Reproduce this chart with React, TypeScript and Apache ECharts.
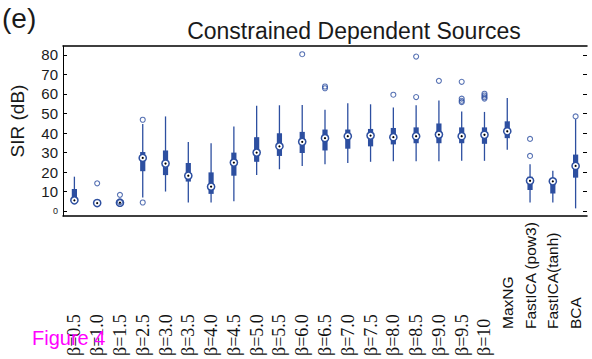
import React, { useEffect, useRef } from "react";
import * as echarts from "echarts";

// Methods compared on the horizontal axis
const categories = [
  "β=0.5", "β=1.0", "β=1.5", "β=2.5", "β=3.0", "β=3.5", "β=4.0", "β=4.5",
  "β=5.0", "β=5.5", "β=6.0", "β=6.5", "β=7.0", "β=7.5", "β=8.0", "β=8.5",
  "β=9.0", "β=9.5", "β=10", "MaxNG", "FastICA (pow3)", "FastICA(tanh)", "BCA",
];

// Box statistics of SIR (dB) per method
const whiskerLow = [4.5, 3.5, 3.8, 7.1, 10.1, 4.5, 4.5, 5.1, 18.5, 21.5, 23.1, 24.1, 24.7, 25.3, 25.6, 25.6, 25.6, 25.8, 25.8, 31.5, 4.5, 4.5, 1.5];
const quartile1 = [5.2, 4.0, 4.1, 20.5, 18.5, 15.2, 8.9, 18.2, 25.3, 28.3, 29.8, 31.1, 32.0, 33.2, 34.2, 34.8, 34.8, 34.8, 34.5, 37.4, 10.9, 9.1, 17.2];
const medians = [5.6, 4.2, 4.4, 27.3, 24.4, 18.2, 12.6, 24.9, 30.0, 33.2, 35.5, 37.4, 38.4, 38.7, 37.9, 38.4, 39.2, 38.4, 39.1, 40.9, 15.6, 15.3, 23.2];
const quartile3 = [11.4, 4.6, 4.8, 30.3, 31.1, 24.7, 19.9, 30.0, 37.9, 39.9, 40.6, 41.8, 41.8, 42.1, 42.6, 42.9, 44.9, 42.9, 42.9, 46.0, 17.7, 16.5, 29.0];
const whiskerHigh = [17.7, 5.0, 5.2, 44.6, 48.5, 35.4, 34.8, 43.4, 53.9, 54.2, 54.4, 51.9, 55.2, 54.7, 53.0, 54.2, 56.7, 51.0, 50.8, 57.9, 24.1, 20.7, 47.1];

// Outliers: category index and SIR value
const outlierCategory = [1, 2, 2, 3, 3, 10, 11, 11, 14, 15, 15, 16, 17, 17, 17, 17, 18, 18, 18, 18, 20, 20, 22];
const outlierValue = [14.3, 8.4, 4.7, 46.8, 4.5, 80.3, 63.8, 62.9, 59.6, 79.1, 58.4, 66.7, 66.2, 57.6, 56.5, 55.8, 60.1, 59.2, 58.3, 57.6, 37.0, 28.3, 48.5];

// Y axis ticks
const yTicks = [0, 10, 20, 30, 40, 50, 60, 70, 80];

const BLUE = "#2d4fa0";
const SANS = "'Liberation Sans', Arial, Helvetica, sans-serif";
const SERIF = "'Liberation Serif', 'Times New Roman', serif";

export default function App() {
  const ref = useRef<HTMLDivElement>(null);

  useEffect(() => {
    if (!ref.current) return;
    const chart = echarts.init(ref.current, undefined, { renderer: "svg" });

    const boxData = categories.map((_, i) => [
      i, whiskerLow[i], quartile1[i], medians[i], quartile3[i], whiskerHigh[i],
    ]);
    const outlierData = outlierCategory.map((c, k) => [c, outlierValue[k]]);

    const option: any = {
      animation: false,
      backgroundColor: "#ffffff",
      title: {
        text: "Constrained Dependent Sources",
        left: 349,
        top: 14,
        textAlign: "center",
        textStyle: { fontFamily: SANS, fontSize: 23, fontWeight: "normal", color: "#1a1a1a" },
      },
      grid: { left: 48, right: 5, top: 46, bottom: 141 },
      xAxis: [
        {
          type: "category",
          data: categories,
          position: "bottom",
          axisLine: { onZero: false, lineStyle: { color: "#000", width: 1.5 } },
          axisTick: { show: false },
          splitLine: { show: false },
          axisLabel: {
            interval: 0,
            rotate: 90,
            align: "left",
            verticalAlign: "middle",
            margin: 140,
            formatter: (v: string) => (v.startsWith("β") ? `{b|${v}}` : `{s|${v}}`),
            rich: {
              b: { fontFamily: SERIF, fontSize: 18, color: "#111" },
              s: { fontFamily: SANS, fontSize: 15.5, color: "#111", padding: [0, 0, 0, 27] },
            },
          },
        },
        {
          type: "category",
          data: categories,
          position: "top",
          axisLine: { onZero: false, lineStyle: { color: "#000", width: 1.5 } },
          axisTick: { show: false },
          axisLabel: { show: false },
          splitLine: { show: false },
        },
      ],
      yAxis: [
        {
          type: "value",
          position: "left",
          min: -2.4,
          max: 84.5,
          name: "SIR (dB)",
          nameLocation: "middle",
          nameGap: 36,
          nameTextStyle: { fontFamily: SANS, fontSize: 19, color: "#1a1a1a", padding: [0, 0, 0, 20] },
          axisLine: { show: true, onZero: false, lineStyle: { color: "#000", width: 1 } },
          axisTick: { show: true, inside: true, length: 4, customValues: yTicks, lineStyle: { color: "#000" } },
          splitLine: { show: false },
          axisLabel: {
            customValues: yTicks,
            margin: 5,
            fontFamily: SANS,
            fontSize: 15,
            color: "#1a1a1a",
            formatter: (v: number) => (v === 0 ? "{z|0}" : String(v)),
            rich: { z: { fontFamily: SANS, fontSize: 9, color: "#1a1a1a" } },
          },
        },
        {
          type: "value",
          position: "right",
          min: -2.4,
          max: 84.5,
          axisLine: { show: false },
          axisTick: { show: true, inside: true, length: 4, customValues: yTicks, lineStyle: { color: "#000" } },
          axisLabel: { show: false },
          splitLine: { show: false },
        },
      ],
      series: [
        {
          type: "custom",
          name: "boxes",
          xAxisIndex: 0,
          yAxisIndex: 0,
          encode: { x: 0, y: [1, 2, 3, 4, 5] },
          data: boxData,
          renderItem: (_params: any, api: any) => {
            const i = api.value(0);
            const pLow = api.coord([i, api.value(1)]);
            const pQ1 = api.coord([i, api.value(2)]);
            const pMed = api.coord([i, api.value(3)]);
            const pQ3 = api.coord([i, api.value(4)]);
            const pHigh = api.coord([i, api.value(5)]);
            const x = pMed[0];
            return {
              type: "group",
              children: [
                {
                  type: "line",
                  shape: { x1: x, y1: pLow[1], x2: x, y2: pHigh[1] },
                  style: { stroke: BLUE, lineWidth: 1.3 },
                },
                {
                  type: "rect",
                  shape: { x: x - 2.6, y: pQ3[1], width: 5.2, height: pQ1[1] - pQ3[1] },
                  style: { fill: BLUE },
                },
                {
                  type: "circle",
                  shape: { cx: x, cy: pMed[1], r: 3.6 },
                  style: { fill: "#ffffff", stroke: BLUE, lineWidth: 1.5 },
                },
                {
                  type: "circle",
                  shape: { cx: x, cy: pMed[1], r: 1.1 },
                  style: { fill: "#000000" },
                },
              ],
            };
          },
        },
        {
          type: "scatter",
          name: "outliers",
          xAxisIndex: 0,
          yAxisIndex: 0,
          symbol: "circle",
          symbolSize: 5,
          itemStyle: { color: "rgba(0,0,0,0)", borderColor: BLUE, borderWidth: 1.1 },
          data: outlierData,
          z: 3,
        },
      ],
      graphic: [
        {
          type: "text",
          left: 2,
          top: 4,
          style: { text: "(e)", fontFamily: SANS, fontSize: 28, fill: "#1a1a1a" },
        },
        {
          type: "text",
          left: 32,
          top: 328,
          z: 100,
          style: { text: "Figure 4", fontFamily: SANS, fontSize: 20, fill: "#ff00ff" },
        },
      ],
    };

    chart.setOption(option);
    return () => chart.dispose();
  }, []);

  return (
    <div
      ref={ref}
      style={{ position: "fixed", left: 0, top: 0, width: 592, height: 359, background: "#fff" }}
    />
  );
}
